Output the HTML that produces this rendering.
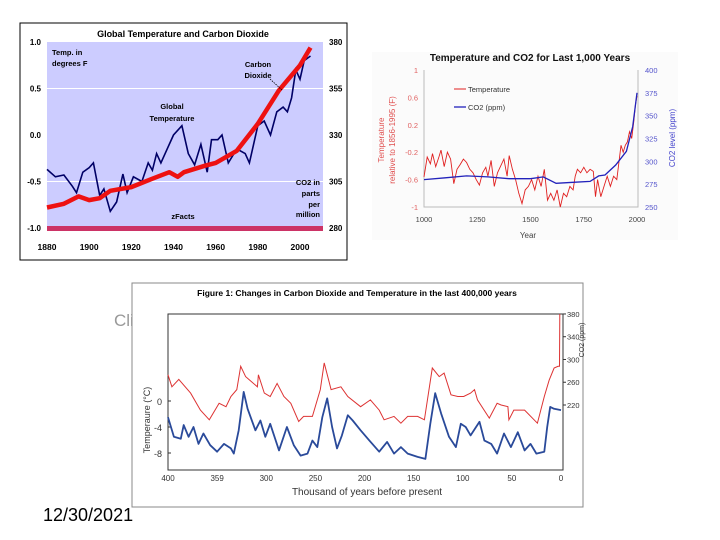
<!DOCTYPE html>
<html><head><meta charset="utf-8">
<style>
html,body{margin:0;padding:0;background:#fff;}
body{width:720px;height:540px;position:relative;overflow:hidden;font-family:"Liberation Sans",sans-serif;}
svg{position:absolute;left:0;top:0;}
</style></head>
<body>
<div style="position:absolute;left:114px;top:311px;font-size:17px;color:#999;">Cli</div>
<div style="position:absolute;left:43px;top:505px;font-size:18px;color:#000;">12/30/2021</div>
<svg id="s" width="720" height="540"></svg>
<script>
// ---------- Chart 1 data ----------
const c1Years = [1880,1884,1888,1892,1894,1897,1900,1902,1905,1907,1910,1913,1916,1918,1921,1925,1928,1930,1932,1934,1937,1940,1944,1947,1950,1953,1956,1958,1961,1963,1966,1970,1974,1976,1978,1980,1983,1986,1989,1992,1994,1996,1998,2000,2002,2005];
const c1Temp = [-0.37,-0.45,-0.43,-0.55,-0.62,-0.4,-0.35,-0.3,-0.65,-0.58,-0.82,-0.72,-0.42,-0.62,-0.45,-0.5,-0.3,-0.38,-0.2,-0.3,-0.15,0.0,0.1,-0.2,-0.32,-0.1,-0.4,-0.05,-0.05,0.0,-0.3,-0.15,-0.2,-0.3,-0.1,0.1,0.15,0.0,0.25,0.3,0.25,0.4,0.7,0.6,0.8,0.85];
const c1Co2Years = [1880,1888,1895,1900,1905,1910,1920,1930,1938,1942,1945,1955,1960,1970,1980,1990,2000,2005];
const c1Co2 = [291,293,297,295,296,300,302,306.5,310,307.5,310,313.5,315,321.5,336,354,367.5,377];
const c1XTicks = [1880,1900,1920,1940,1960,1980,2000];
const c1YTicks = ["1.0","0.5","0.0","-0.5","-1.0"];
const c1Y2Ticks = [380,355,330,305,280];
// ---------- Chart 2 data ----------
const c2Years = [1000,1015,1030,1040,1055,1070,1080,1095,1110,1125,1140,1155,1170,1185,1200,1215,1230,1245,1260,1275,1290,1300,1315,1330,1345,1360,1375,1390,1400,1415,1430,1445,1460,1475,1490,1505,1520,1535,1550,1565,1580,1595,1610,1625,1640,1655,1670,1685,1700,1710,1720,1735,1750,1765,1780,1795,1805,1815,1830,1845,1860,1875,1890,1905,1915,1925,1935,1945,1955,1965,1975,1985,1993,2000];
const c2Temp = [-0.56,-0.27,-0.37,-0.22,-0.41,-0.27,-0.17,-0.41,-0.2,-0.3,-0.66,-0.45,-0.38,-0.3,-0.35,-0.45,-0.5,-0.6,-0.68,-0.5,-0.42,-0.55,-0.32,-0.7,-0.5,-0.4,-0.3,-0.55,-0.25,-0.45,-0.6,-0.8,-0.95,-0.75,-0.7,-0.6,-0.75,-0.55,-0.7,-0.45,-0.9,-0.8,-0.9,-0.75,-1.0,-0.8,-0.85,-0.7,-0.75,-0.55,-0.45,-0.5,-0.42,-0.5,-0.45,-0.48,-0.85,-0.6,-0.85,-0.7,-0.55,-0.7,-0.55,-0.6,-0.35,-0.1,-0.2,-0.1,-0.05,0.1,0.0,0.25,0.5,0.62];
const c2Co2Years = [1000,1100,1200,1300,1400,1500,1560,1620,1700,1780,1820,1850,1900,1950,1980,2000];
const c2Co2 = [280,282,284,283,281,281,283,276,277,278,284,285,296,311,338,375];
const c2XTicks = [1000,1250,1500,1750,2000];
const c2YTicks = [1,0.6,0.2,-0.2,-0.6,-1];
const c2Y2Ticks = [400,375,350,325,300,275,250];
// ---------- Chart 3 data ----------
const c3RedKy = [400,396,389,377,367,358,348,341,336,330,326,321,309,308,302,296,289,282,275,267,262,253,245,241,234,224,217,204,194,185,180,170,163,156,146,139,131,124,119,112,105,99,92,88,85,73,65,61,54,53,48,37,24,17,12,7,3,1.5,1.2];
const c3RedPpm = [273,252,265,241,211,194,223,217,235,247,288,270,252,273,241,235,258,235,223,191,200,200,247,294,247,252,235,217,229,211,194,200,188,200,200,194,285,270,276,238,235,235,241,247,229,197,223,220,217,194,211,211,188,235,264,285,288,288,380];
const c3BlueKy = [400,394,387,384,379,374,369,364,357,350,343,336,333,328,323,319,311,306,301,296,287,279,272,265,258,253,248,243,238,233,228,223,217,212,204,195,185,177,170,163,156,146,138,133,128,122,114,107,102,97,92,83,78,71,65,58,51,44,37,31,25,17,14,11,7,0];
const c3BlueTemp = [-2.5,-5.5,-5.8,-3.7,-5.5,-4.0,-6.6,-5.0,-6.8,-7.8,-6.6,-7.3,-8.1,-4.5,1.4,-1.2,-4.5,-3.0,-5.5,-3.5,-7.6,-4.0,-6.8,-8.4,-8.1,-6.1,-7.1,-2.5,0.4,-4.0,-7.3,-5.3,-2.2,-3.0,-4.5,-6.1,-7.8,-6.3,-8.1,-7.1,-8.1,-8.6,-8.9,-3.5,1.2,-1.9,-5.5,-7.1,-3.5,-4.0,-5.3,-3.2,-6.1,-6.6,-8.1,-5.0,-7.1,-4.8,-7.6,-6.6,-8.1,-7.8,-4.0,-0.9,-1.2,-1.4];
const c3XTicks = ["400","359","300","250","200","150","100","50","0"];
const c3XTickVals = [400,350,300,250,200,150,100,50,0];
const c3YTicks = [0,-4,-8];
const c3Y2Ticks = [380,340,300,260,220];

const NS="http://www.w3.org/2000/svg";
const svg=document.getElementById('s');
function mk(tag,attrs,parent,text){const e=document.createElementNS(NS,tag);for(const k in attrs)e.setAttribute(k,attrs[k]);if(text!==undefined)e.textContent=text;(parent||svg).appendChild(e);return e;}
function pathFrom(xs,ys,fx,fy){return xs.map((v,i)=>(i?'L':'M')+fx(v).toFixed(1)+' '+fy(ys[i]).toFixed(1)).join(' ');}

// ===== Chart 1 =====
const g1=mk('g',{});


const x1=y=>47+(y-1880)*(253/120);
const y1=v=>135-v*93;
const y1r=p=>y1((p-330)/50);
let e=mk('rect',{x:20,y:23,width:327,height:237,fill:'#fff',stroke:'#000','stroke-width':1},g1);

e=mk('rect',{x:47,y:42,width:276,height:186,fill:'#ccccff'},g1);

e=mk('rect',{x:47,y:226,width:276,height:5,fill:'#cc3366'},g1);

[0.5,-0.5].forEach(v=>{const l=mk('line',{x1:47,x2:323,y1:y1(v),y2:y1(v),stroke:'#fff','stroke-width':1},g1);
});
e=mk('text',{x:183,y:37,'font-size':9,'font-weight':'bold','text-anchor':'middle'},g1,'Global Temperature and Carbon Dioxide');

c1YTicks.forEach((t,i)=>{const v=parseFloat(t);const tx=mk('text',{x:41,y:y1(v)+3,'font-size':8,'text-anchor':'end','font-weight':'bold'},g1,t);
});
c1Y2Ticks.forEach(p=>{const tx=mk('text',{x:329,y:y1r(p)+3,'font-size':8,'font-weight':'bold'},g1,String(p));
});
c1XTicks.forEach(yv=>{const tx=mk('text',{x:x1(yv),y:250,'font-size':8.5,'text-anchor':'middle','font-weight':'bold'},g1,String(yv));
});
e=mk('path',{d:pathFrom(c1Years,c1Temp,x1,y1),fill:'none',stroke:'#000066','stroke-width':1.6},g1);

e=mk('path',{d:pathFrom(c1Co2Years,c1Co2,x1,y1r),fill:'none',stroke:'#ee1111','stroke-width':4.5,'stroke-linejoin':'round'},g1);

[['Temp. in',52,55],['degrees F',52,66]].forEach(a=>{const t=mk('text',{x:a[1],y:a[2],'font-size':7.5,'font-weight':'bold'},g1,a[0]);});
[['Carbon',258,67],['Dioxide',258,78]].forEach(a=>{const t=mk('text',{x:a[1],y:a[2],'font-size':7.5,'font-weight':'bold','text-anchor':'middle'},g1,a[0]);});
e=mk('line',{x1:270,y1:79,x2:282,y2:90,stroke:'#000','stroke-width':0.8,'stroke-dasharray':'1.5,1'},g1);

[['Global',172,109],['Temperature',172,121]].forEach(a=>{const t=mk('text',{x:a[1],y:a[2],'font-size':7.5,'font-weight':'bold','text-anchor':'middle'},g1,a[0]);});
[['CO2 in',320,185],['parts',320,196],['per',320,207],['million',320,217]].forEach(a=>{const t=mk('text',{x:a[1],y:a[2],'font-size':7.5,'font-weight':'bold','text-anchor':'end'},g1,a[0]);});
e=mk('text',{x:183,y:219,'font-size':7.5,'font-weight':'bold','text-anchor':'middle'},g1,'zFacts');


// ===== Chart 2 =====
const g2=mk('g',{});


const x2=y=>424+(y-1000)*0.213;
const y2=v=>138.5-v*68.5;
const y2r=p=>207-(p-250)*(137/150);
e=mk('rect',{x:372,y:52,width:306,height:188,fill:'#fbfbfb'},g2);

e=mk('text',{x:530,y:61,'font-size':10,'font-weight':'bold','text-anchor':'middle',fill:'#111'},g2,'Temperature and CO2 for Last 1,000 Years');

e=mk('path',{d:'M424 70 V207 H638 V70',fill:'none',stroke:'#bbb','stroke-width':1},g2);

c2YTicks.forEach(v=>{const t=mk('text',{x:418,y:y2(v)+3,'font-size':7.5,'text-anchor':'end',fill:'#e06060'},g2,String(v));});
c2Y2Ticks.forEach(p=>{const t=mk('text',{x:645,y:y2r(p)+3,'font-size':7.5,fill:'#5555cc'},g2,String(p));});
c2XTicks.forEach(yv=>{const t=mk('text',{x:x2(yv),y:222,'font-size':7.5,'text-anchor':'middle',fill:'#444'},g2,String(yv));});
e=mk('text',{x:528,y:238,'font-size':8,'text-anchor':'middle',fill:'#444'},g2,'Year');

e=mk('text',{x:0,y:0,'font-size':8,'text-anchor':'middle',fill:'#e05050',transform:'translate(384,140) rotate(-90)'},g2,'Temperature');

e=mk('text',{x:0,y:0,'font-size':8,'text-anchor':'middle',fill:'#e05050',transform:'translate(395,140) rotate(-90)'},g2,'relative to 1856-1995 (F)');

e=mk('text',{x:0,y:0,'font-size':8,'text-anchor':'middle',fill:'#4444cc',transform:'translate(675,138) rotate(-90)'},g2,'CO2 level (ppm)');

e=mk('path',{d:pathFrom(c2Years,c2Temp,x2,y2),fill:'none',stroke:'#e02020','stroke-width':0.9},g2);

e=mk('path',{d:pathFrom(c2Co2Years,c2Co2,x2,y2r),fill:'none',stroke:'#2222bb','stroke-width':1.3},g2);

e=mk('line',{x1:454,x2:466,y1:89,y2:89,stroke:'#e02020','stroke-width':1},g2);

e=mk('text',{x:468,y:92,'font-size':7.5,fill:'#333'},g2,'Temperature');

e=mk('line',{x1:454,x2:466,y1:107,y2:107,stroke:'#2222bb','stroke-width':1.3},g2);

e=mk('text',{x:468,y:110,'font-size':7.5,fill:'#333'},g2,'CO2 (ppm)');


// ===== Chart 3 =====
const g3=mk('g',{});


const x3=k=>561-k*0.9825;
const y3=t=>401-t*6.5;
const y3r=p=>405-(p-220)*0.569;
e=mk('rect',{x:132,y:283,width:451,height:224,fill:'#fff',stroke:'#888','stroke-width':1},g3);

e=mk('text',{x:357,y:296,'font-size':8.5,'font-weight':'bold','text-anchor':'middle'},g3,'Figure 1: Changes in Carbon  Dioxide and Temperature in the last 400,000 years');

e=mk('rect',{x:168,y:314,width:395,height:156,fill:'none',stroke:'#333','stroke-width':1},g3);

c3YTicks.forEach(v=>{const t=mk('text',{x:162,y:y3(v)+4,'font-size':9,'text-anchor':'end',fill:'#333'},g3,String(v));
const l=mk('line',{x1:168,x2:171,y1:y3(v),y2:y3(v),stroke:'#333'},g3);});
c3Y2Ticks.forEach(p=>{const t=mk('text',{x:567,y:y3r(p)+3,'font-size':7.5,fill:'#333'},g3,String(p));
const l=mk('line',{x1:563,x2:566,y1:y3r(p),y2:y3r(p),stroke:'#333'},g3);});
c3XTicks.forEach((lab,i)=>{const t=mk('text',{x:x3(c3XTickVals[i]),y:481,'font-size':8,'text-anchor':'middle',fill:'#333'},g3,lab);});
e=mk('text',{x:367,y:495,'font-size':10,'text-anchor':'middle',fill:'#333'},g3,'Thousand of years before present');

e=mk('text',{x:0,y:0,'font-size':9,'text-anchor':'middle',fill:'#333',transform:'translate(150,420) rotate(-90)'},g3,'Temperaure (°C)');

e=mk('text',{x:0,y:0,'font-size':7,'text-anchor':'middle',fill:'#333',transform:'translate(584,340) rotate(-90)'},g3,'CO2 (ppm)');

e=mk('path',{d:pathFrom(c3BlueKy,c3BlueTemp,x3,y3),fill:'none',stroke:'#2a4a9a','stroke-width':1.8,'stroke-linejoin':'round'},g3);

e=mk('path',{d:pathFrom(c3RedKy,c3RedPpm,x3,y3r),fill:'none',stroke:'#dd3333','stroke-width':1},g3);

</script>
</body></html>
